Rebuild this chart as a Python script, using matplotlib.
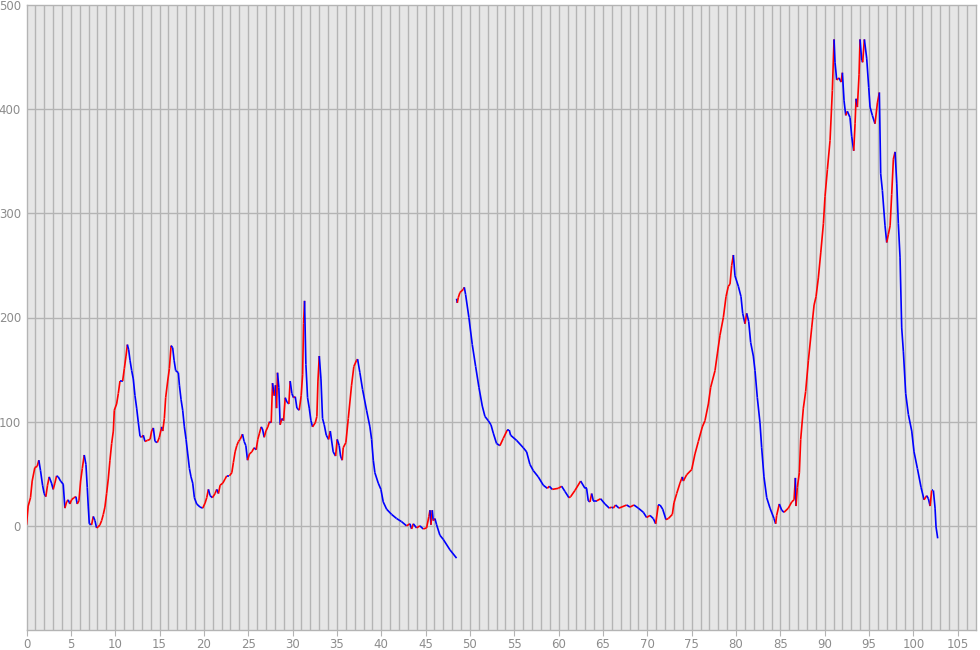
import matplotlib
matplotlib.use("Agg")
import matplotlib.pyplot as plt
import numpy as np
from matplotlib.collections import LineCollection

# ---- data: distance (km) and elevation (m), two track pieces ----
dist_a = [0.0, 0.19, 0.45, 0.64, 0.94, 1.2, 1.39, 1.58, 1.81, 1.99,
          2.18, 2.37, 2.56, 2.82, 3.01, 3.2, 3.39, 3.58, 3.84, 4.14,
          4.33, 4.52, 4.7, 4.89, 5.08, 5.34, 5.57, 5.72, 5.91, 6.1,
          6.29, 6.51, 6.7, 6.85, 6.96, 7.08, 7.34, 7.53, 7.72, 7.9,
          8.09, 8.28, 8.47, 8.66, 8.84, 9.03, 9.22, 9.41, 9.6, 9.79,
          9.9, 10.16, 10.35, 10.54, 10.84, 11.03, 11.22, 11.37, 11.52, 11.67,
          11.86, 12.04, 12.23, 12.42, 12.61, 12.8, 12.98, 13.17, 13.36, 13.62,
          13.93, 14.11, 14.3, 14.49, 14.75, 14.98, 15.24, 15.36, 15.54, 15.69,
          15.92, 16.11, 16.3, 16.48, 16.64, 16.82, 17.12, 17.24, 17.43, 17.61,
          17.8, 17.99, 18.18, 18.37, 18.55, 18.74, 18.93, 19.19, 19.57, 19.87,
          20.14, 20.32, 20.51, 20.7, 20.96, 21.26, 21.45, 21.64, 21.83, 22.13,
          22.39, 22.58, 22.88, 23.15, 23.33, 23.52, 23.71, 23.9, 24.09, 24.35,
          24.54, 24.73, 24.92, 25.14, 25.4, 25.67, 25.89, 26.08, 26.27, 26.46,
          26.61, 26.8, 26.99, 27.21, 27.4, 27.59, 27.74, 27.93, 28.08, 28.19,
          28.3, 28.45, 28.6, 28.79, 28.98, 29.17, 29.36, 29.58, 29.73, 29.92,
          30.11, 30.3, 30.49, 30.75, 30.97, 31.13, 31.24, 31.35, 31.5, 31.69,
          31.88, 32.07, 32.25, 32.56, 32.74, 32.86, 33.01, 33.2, 33.38, 33.57,
          33.8, 34.06, 34.25, 34.58, 34.85, 35.03, 35.26, 35.41, 35.6, 35.71,
          36.01, 36.28, 36.65, 36.91, 37.22, 37.33, 37.59, 37.89, 38.34, 38.72,
          38.91, 39.1, 39.28, 39.66, 39.96, 40.22, 40.6, 41.16, 41.73, 42.29,
          42.85, 43.23, 43.42, 43.61, 43.98, 44.36, 44.73, 45.11, 45.37, 45.49,
          45.6, 45.75, 45.86, 46.05, 46.24, 46.61, 46.99, 47.74, 48.49]
elev_a = [1, 19, 27, 43, 56, 57, 63, 53, 39, 31,
          28, 39, 47, 41, 35, 41, 48, 47, 43, 40,
          17, 23, 25, 21, 25, 27, 28, 21, 24, 43,
          55, 68, 59, 37, 19, 2, 1, 9, 5, -2,
          -1, 1, 5, 11, 18, 31, 45, 63, 79, 91,
          111, 117, 127, 139, 139, 151, 163, 174, 169, 159,
          149, 141, 125, 113, 99, 86, 85, 87, 81, 82,
          83, 91, 94, 81, 80, 85, 95, 91, 103, 123,
          139, 151, 173, 171, 159, 149, 147, 135, 121, 111,
          95, 83, 69, 55, 47, 41, 27, 21, 18, 17,
          22, 27, 35, 29, 27, 31, 35, 31, 39, 41,
          45, 48, 48, 51, 61, 71, 77, 81, 83, 88,
          81, 77, 63, 69, 71, 75, 73, 83, 89, 95,
          93, 85, 91, 95, 100, 99, 137, 125, 135, 113,
          147, 133, 97, 103, 101, 123, 119, 117, 139, 127,
          123, 124, 113, 111, 125, 145, 194, 216, 155, 123,
          113, 101, 95, 99, 105, 139, 163, 141, 103, 97,
          87, 83, 91, 71, 67, 83, 77, 67, 63, 75,
          80, 103, 135, 153, 159, 160, 147, 131, 111, 95,
          83, 63, 51, 41, 35, 23, 16, 11, 7, 4,
          0, 2, -3, 2, -2, 0, -3, -2, 9, 15,
          1, 15, 5, 7, 1, -9, -13, -23, -31]

dist_b = [48.49, 48.57, 48.68, 48.87, 49.25, 49.36, 49.51, 49.88, 50.26, 50.64,
          51.01, 51.39, 51.69, 52.06, 52.37, 52.63, 53.0, 53.38, 53.76, 54.21,
          54.43, 54.58, 55.26, 56.01, 56.39, 56.76, 57.14, 57.7, 58.27, 58.72,
          58.95, 59.28, 59.96, 60.34, 60.71, 61.16, 61.35, 61.84, 62.48, 62.97,
          63.15, 63.34, 63.53, 63.72, 63.91, 64.28, 64.73, 65.22, 65.71, 65.97,
          66.16, 66.42, 66.8, 67.67, 68.04, 68.49, 68.98, 69.55, 69.92, 70.3,
          70.67, 70.94, 71.24, 71.43, 71.73, 72.1, 72.37, 72.82, 73.0, 73.31,
          73.68, 73.94, 74.06, 74.43, 75.0, 75.37, 75.75, 76.2, 76.5, 76.88,
          77.14, 77.63, 77.89, 78.19, 78.57, 78.87, 79.13, 79.32, 79.51, 79.7,
          79.88, 80.26, 80.56, 80.75, 81.01, 81.2, 81.43, 81.65, 81.95, 82.14,
          82.4, 82.7, 82.89, 83.15, 83.46, 83.83, 84.28, 84.47, 84.58, 84.88,
          85.15, 85.41, 85.9, 86.28, 86.54, 86.69, 86.76, 86.91, 87.14, 87.29,
          87.59, 87.85, 88.16, 88.53, 88.8, 89.02, 89.28, 89.55, 89.85, 90.03,
          90.3, 90.6, 90.86, 91.05, 91.16, 91.35, 91.61, 91.84, 91.99, 92.18,
          92.37, 92.55, 92.85, 93.04, 93.27, 93.42, 93.53, 93.68, 93.87, 93.98,
          94.17, 94.28, 94.47, 94.73, 94.96, 95.11, 95.37, 95.67, 95.94, 96.16,
          96.31, 96.5, 96.8, 96.99, 97.18, 97.37, 97.55, 97.74, 97.93, 98.12,
          98.3, 98.49, 98.68, 98.87, 99.13, 99.43, 99.81, 100.07, 100.45, 100.86,
          101.2, 101.5, 101.69, 101.88, 102.06, 102.25, 102.44, 102.55, 102.74]
elev_b = [218, 214, 219, 224, 227, 229, 222, 200, 174, 153,
          133, 115, 105, 101, 97, 89, 79, 77, 84, 92,
          92, 87, 82, 75, 71, 59, 53, 47, 39, 36,
          38, 35, 36, 38, 33, 27, 28, 34, 43, 36,
          36, 24, 23, 31, 24, 24, 26, 21, 17, 18,
          17, 20, 17, 20, 18, 20, 17, 13, 8, 10,
          7, 2, 20, 20, 16, 6, 7, 11, 22, 31,
          41, 47, 43, 49, 54, 69, 81, 95, 101, 117,
          133, 149, 165, 183, 200, 220, 230, 232, 250, 260,
          240, 230, 220, 204, 194, 204, 196, 176, 163, 149,
          123, 99, 75, 47, 27, 17, 7, 2, 10, 21,
          15, 13, 17, 23, 25, 46, 19, 37, 51, 83,
          113, 129, 159, 190, 212, 220, 238, 262, 290, 316,
          342, 370, 418, 467, 445, 428, 430, 426, 435, 408,
          394, 398, 392, 374, 360, 386, 410, 402, 433, 467,
          447, 445, 467, 449, 421, 402, 394, 386, 406, 416,
          338, 322, 288, 272, 280, 288, 318, 352, 359, 329,
          290, 258, 190, 167, 127, 107, 91, 71, 55, 37,
          25, 29, 26, 19, 34, 34, 17, -1, -12]

x_ticks = [0, 5, 10, 15, 20, 25, 30, 35, 40, 45, 50,
           55, 60, 65, 70, 75, 80, 85, 90, 95, 100, 105]
y_ticks = [0, 100, 200, 300, 400, 500]

UP = "#ff0000"
DOWN = "#0000ff"
GRID = "#b4b4b4"
BG = "#e6e6e6"
TXT = "#8c8c8c"

fig = plt.figure(figsize=(9.8, 6.5), dpi=100)
ax = fig.add_axes([26.5 / 980, 20 / 650, 949 / 980, 625 / 650])
ax.set_facecolor(BG)
ax.set_xlim(0, 107)
ax.set_ylim(-100, 500)

# grid: vertical every 1 km, horizontal every 100 m
for gx in range(1, 107):
    ax.axvline(gx, color=GRID, lw=1.0, zorder=1)
for gy in y_ticks[:-1]:
    ax.axhline(gy, color=GRID, lw=1.0, zorder=1)

for xs, ys in ((dist_a, elev_a), (dist_b, elev_b)):
    pts = np.column_stack([xs, ys])
    segs = np.stack([pts[:-1], pts[1:]], axis=1)
    cols = [UP if b > a else DOWN for a, b in zip(ys[:-1], ys[1:])]
    lc = LineCollection(segs, colors=cols, linewidths=1.2, zorder=3,
                        capstyle="butt")
    ax.add_collection(lc)

for s in ax.spines.values():
    s.set_color(GRID)
    s.set_linewidth(1.0)

ax.set_xticks(x_ticks)
ax.set_xticklabels([str(v) for v in x_ticks])
ax.set_yticks(y_ticks)
ax.set_yticklabels([str(v) for v in y_ticks])
ax.tick_params(axis="x", direction="out", length=4, color=GRID,
               labelsize=8.5, labelcolor=TXT, pad=2)
ax.tick_params(axis="y", length=0, labelsize=8.5, labelcolor=TXT, pad=4)

fig.savefig("out.png", dpi=100, facecolor="white")
